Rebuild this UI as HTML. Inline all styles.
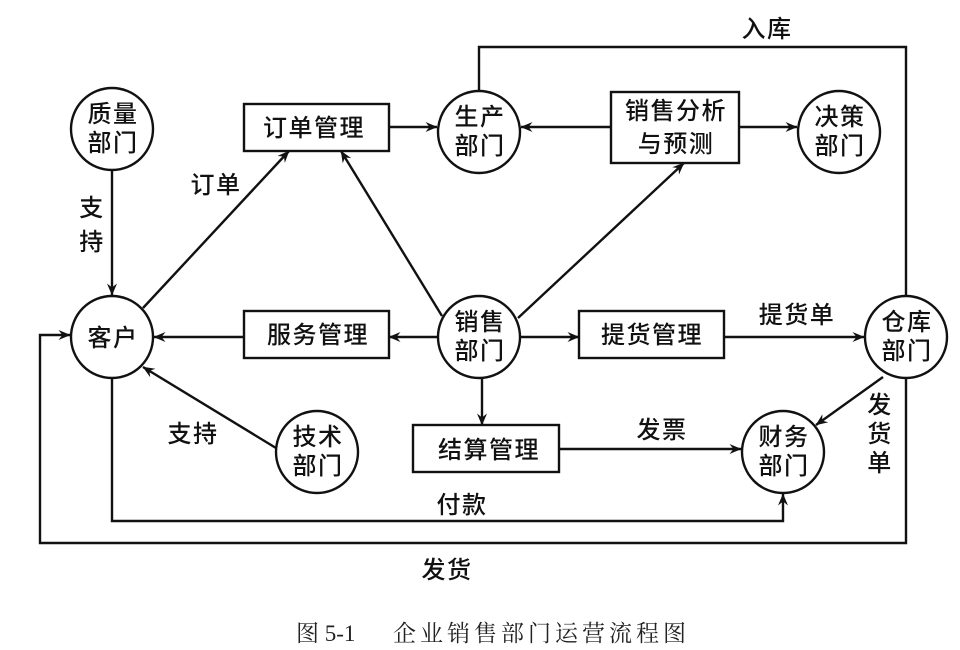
<!DOCTYPE html>
<html><head><meta charset="utf-8"><style>
html,body{margin:0;padding:0;background:#fff}
svg{display:block}
.t{font-family:"Liberation Sans","Noto Sans CJK SC",sans-serif;font-size:24px;font-weight:500;fill:#111;letter-spacing:1.5px}
.c{font-family:"Liberation Serif","Noto Serif CJK SC",serif;font-size:23px;fill:#222}
</style></head><body>
<svg width="960" height="650" viewBox="0 0 960 650" xmlns="http://www.w3.org/2000/svg">
<defs><marker id="a" viewBox="0 0 12 10" refX="11.5" refY="5" markerWidth="12" markerHeight="10" markerUnits="userSpaceOnUse" orient="auto"><path d="M0,0 L12,5 L0,10 L4,5 z" fill="#111"/></marker></defs>
<g stroke="#111" stroke-width="2.4" fill="none">
<circle cx="112" cy="129" r="41"/>
<circle cx="112" cy="337" r="41"/>
<circle cx="317" cy="452" r="41"/>
<circle cx="479" cy="132" r="41"/>
<circle cx="839" cy="132" r="41"/>
<circle cx="479" cy="337" r="41"/>
<circle cx="906" cy="337" r="41"/>
<circle cx="783" cy="452" r="41"/>
<rect x="244" y="104" width="145" height="47"/>
<rect x="611" y="92" width="128" height="71"/>
<rect x="244" y="311" width="145" height="47"/>
<rect x="579" y="311" width="145" height="47"/>
<rect x="413" y="425" width="146" height="47"/>
<polyline points="479,91 479,47 906,47 906,296"/>
<polyline points="906,378 906,543 40,543 40,335 70,335" marker-end="url(#a)"/>
<polyline points="112,378 112,521 783,521 783,494" marker-end="url(#a)"/>
<line x1="112" y1="170" x2="112" y2="295" marker-end="url(#a)"/>
<line x1="143" y1="308" x2="289" y2="151" marker-end="url(#a)"/>
<line x1="442" y1="316" x2="341" y2="151" marker-end="url(#a)"/>
<line x1="438" y1="337" x2="389" y2="337" marker-end="url(#a)"/>
<line x1="244" y1="337" x2="154" y2="337" marker-end="url(#a)"/>
<line x1="276" y1="448" x2="143" y2="367" marker-end="url(#a)"/>
<line x1="518" y1="318" x2="684" y2="163" marker-end="url(#a)"/>
<line x1="520" y1="337" x2="579" y2="337" marker-end="url(#a)"/>
<line x1="724" y1="337" x2="864" y2="337" marker-end="url(#a)"/>
<line x1="482" y1="378" x2="482" y2="425" marker-end="url(#a)"/>
<line x1="559" y1="449" x2="741" y2="449" marker-end="url(#a)"/>
<line x1="883" y1="377" x2="816" y2="425" marker-end="url(#a)"/>
<line x1="389" y1="127" x2="437" y2="127" marker-end="url(#a)"/>
<line x1="611" y1="127" x2="521" y2="127" marker-end="url(#a)"/>
<line x1="739" y1="127" x2="797" y2="127" marker-end="url(#a)"/>
</g>
<g class="t" text-anchor="middle">
<text x="113" y="122">质量</text><text x="113" y="151">部门</text>
<text x="113" y="346">客户</text>
<text x="318" y="445">技术</text><text x="318" y="474">部门</text>
<text x="480" y="125">生产</text><text x="480" y="154">部门</text>
<text x="840" y="125">决策</text><text x="840" y="154">部门</text>
<text x="480" y="330">销售</text><text x="480" y="359">部门</text>
<text x="907" y="330">仓库</text><text x="907" y="359">部门</text>
<text x="784" y="445">财务</text><text x="784" y="474">部门</text>
<text x="314" y="136">订单管理</text>
<text x="676" y="119">销售分析</text><text x="676" y="152">与预测</text>
<text x="318" y="343">服务管理</text>
<text x="652" y="343">提货管理</text>
<text x="489" y="458">结算管理</text>
<text x="216" y="193">订单</text>
<text x="92" y="216">支</text><text x="92" y="250">持</text>
<text x="193" y="442">支持</text>
<text x="767" y="37">入库</text>
<text x="797" y="323">提货单</text>
<text x="662" y="438">发票</text>
<text x="462" y="513">付款</text>
<text x="447" y="578">发货</text>
<text x="880" y="413">发</text><text x="880" y="442">货</text><text x="880" y="471">单</text>
</g>
<text class="c" x="296" y="641">图 5-1</text>
<text class="c" x="393" y="641" letter-spacing="4">企业销售部门运营流程图</text>
</svg>
</body></html>
